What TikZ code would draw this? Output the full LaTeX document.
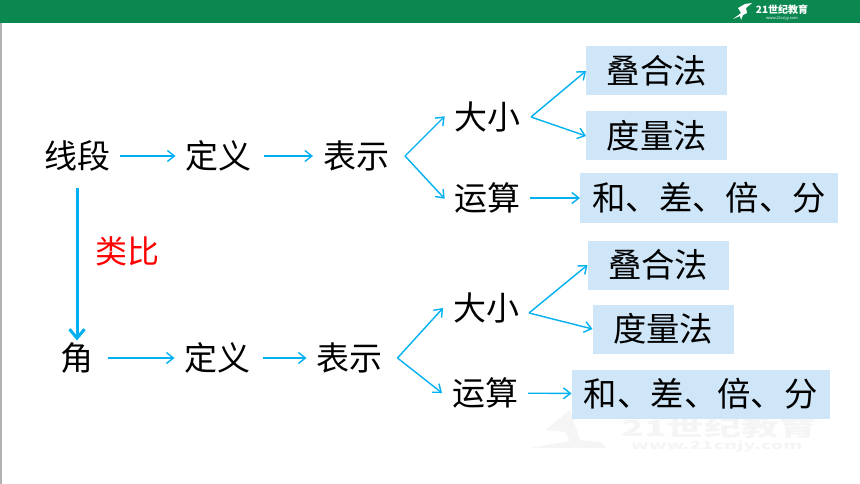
\documentclass[tikz,border=0pt]{standalone}
\usepackage{fontspec}
\setmainfont{Noto Sans CJK SC}
\usepackage{tikz}
\usetikzlibrary{arrows.meta, positioning}
\definecolor{headgreen}{RGB}{11,135,80}
\definecolor{linkblue}{RGB}{0,176,240}
\definecolor{boxblue}{RGB}{207,230,248}
\definecolor{markgray}{RGB}{245,245,245}
\begin{document}
\begin{tikzpicture}[
    x=1pt, y=-1pt,
    word/.style={inner sep=0pt, outer sep=10pt, font=\fontsize{33}{33}\selectfont, text height=29pt, text depth=4pt},
    method/.style={rectangle, fill=boxblue, inner sep=0pt, minimum height=49pt, minimum width=141pt, font=\fontsize{33.4}{33}\selectfont, text height=29pt, text depth=4pt},
    ops/.style={method, minimum width=258pt},
    link/.style={draw=linkblue, line width=1.4pt, -{Straight Barb[length=7pt,width=11pt]}},
    node distance=57pt
]
    \useasboundingbox (0,0) rectangle (860,484);

    % Header
    \fill[headgreen] (0,0) rectangle (860,23);
    \fill[black!30] (0,23) rectangle (1.5,484);
    \fill[white] (733,19) -- (741,13) -- (738,8) -- (745,4) -- (752,3) -- (746,8) -- (747,13) -- (743,15) -- (741,20) -- (740,16) -- cycle;
    \node[white, inner sep=0pt, font=\bfseries\fontsize{10}{10}\selectfont] (logo) at (782,10) {21世纪教育};
    \node[white, inner sep=0pt, font=\fontsize{4}{4}\selectfont, below=1pt of logo] (logourl) {www.21cnjy.com};

    % Watermark
    \node[markgray, inner sep=0pt, transform shape, xscale=1.7, font=\bfseries\fontsize{22}{22}\selectfont] (mark) at (719,428) {21世纪教育};
    \node[markgray, inner sep=0pt, transform shape, xscale=1.8, font=\bfseries\fontsize{11}{11}\selectfont] (markurl) at (717,446) {www.21cnjy.com};
    \fill[markgray] (530,448) -- (606,448) -- (600,442) -- (580,440) -- (570,410) -- (545,430) -- (565,432) -- (570,441) -- cycle;

    % Upper row
    \node[word] (line) at (77,156) {线段};
    \node[word, right=55.5pt of line] (defA) {定义};
    \node[word, right=51.5pt of defA] (showA) {表示};
    \coordinate[right=6pt of showA] (forkA);
    \node[word, right=39pt of forkA, yshift=39pt] (sizeA) {大小};
    \node[word, right=39pt of forkA, yshift=-42pt] (calcA) {运算};
    \coordinate[right=1pt of sizeA] (forkB);
    \node[method, right=55pt of forkB, yshift=46pt] (stackA) {叠合法};
    \node[method, right=55pt of forkB, yshift=-19pt] (measA) {度量法};
    \node[ops, right=50pt of calcA] (opsA) {和、差、倍、分};

    % Lower row
    \node[word] (angle) at (77,358) {角};
    \node[word, right=71pt of angle] (defB) {定义};
    \node[word, right=46pt of defB] (showB) {表示};
    \coordinate[right=5pt of showB] (forkC);
    \node[word, right=45.5pt of forkC, yshift=50pt] (sizeB) {大小};
    \node[word, right=44.5pt of forkC, yshift=-35pt] (calcB) {运算};
    \coordinate[right=0pt of sizeB, yshift=-5pt] (forkD);
    \node[method, right=58.5pt of forkD, yshift=48pt] (stackB) {叠合法};
    \node[method, right=63.5pt of forkD, yshift=-16pt] (measB) {度量法};
    \node[ops, right=43.5pt of calcB, yshift=-1pt] (opsB) {和、差、倍、分};

    % Analogy
    \node[red, inner sep=0pt, font=\fontsize{32}{32}\selectfont, text height=28pt, text depth=4pt] (analogy) at (127,251) {类比};

    % Arrows
    \draw[link] (line) -- (defA);
    \draw[link, shorten <=2pt] (defA) -- (showA);
    \draw[link, shorten >=-1pt] (forkA) -- (sizeA.west);
    \draw[link, shorten >=-1pt] (forkA) -- (calcA.west);
    \draw[link] (forkB) -- (stackA.west);
    \draw[link] (forkB) -- (measA.west);
    \draw[link] (calcA) -- (opsA);
    \draw[link, line width=3pt, shorten <=6pt, shorten >=-9pt, -{Straight Barb[length=9pt,width=15pt]}] (line) -- (angle);
    \draw[link, shorten <=4pt] (angle) -- (defB);
    \draw[link, shorten <=2pt] (defB) -- (showB);
    \draw[link] (forkC) -- (sizeB.west);
    \draw[link] (forkC) -- (calcB.west);
    \draw[link] (forkD) -- (stackB.west);
    \draw[link] (forkD) -- (measB.west);
    \draw[link] (calcB) -- (opsB);
\end{tikzpicture}
\end{document}
